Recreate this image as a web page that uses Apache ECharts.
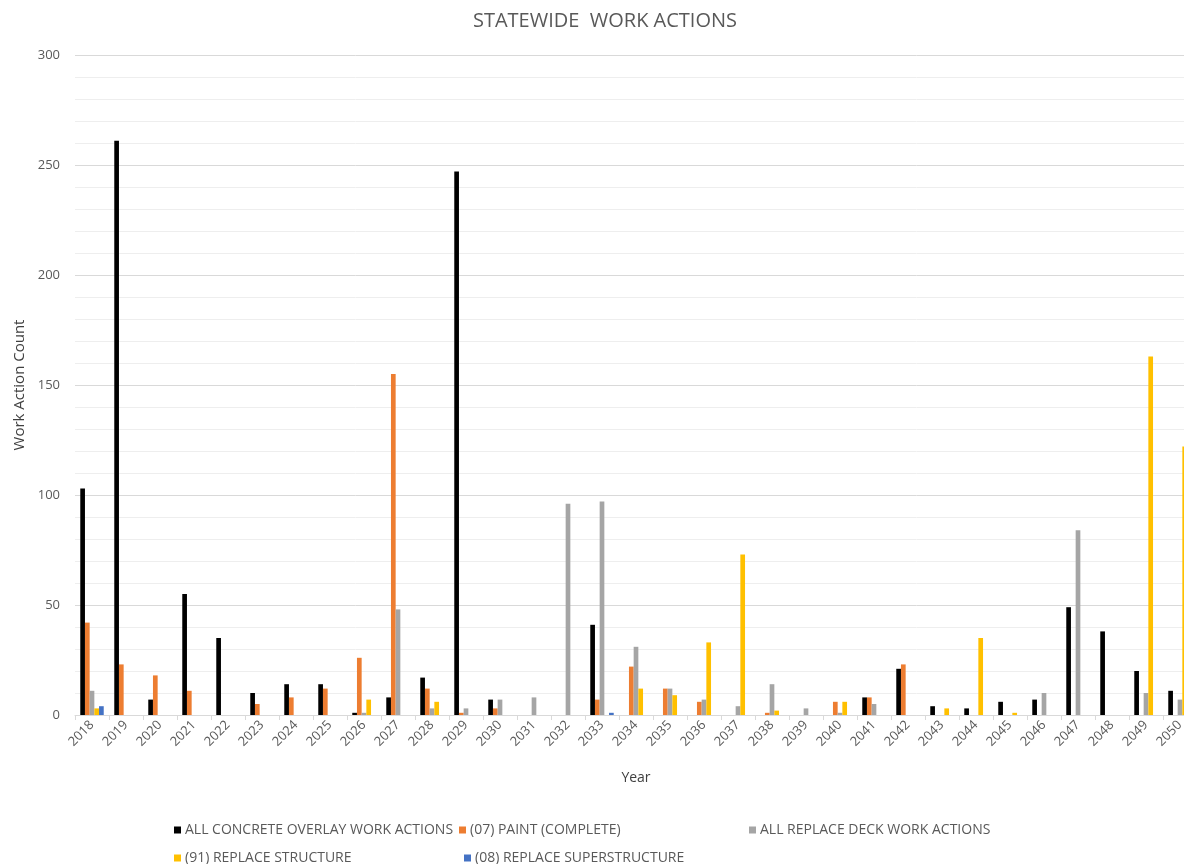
<!DOCTYPE html>
<html>
<head>
<meta charset="utf-8">
<title>Statewide Work Actions</title>
<script src="https://cdn.jsdelivr.net/npm/echarts@6/dist/echarts.min.js"></script>
<style>
  html, body { margin: 0; padding: 0; background: #ffffff; overflow: hidden; width: 1184px; height: 864px; }
  /* canvas is a bit wider than the page; the last column runs off the right edge */
  #chart { width: 1210px; height: 864px; }
</style>
</head>
<body>
<div id="chart"></div>
<script>
// Planned work action counts per year, statewide
const years = ['2018','2019','2020','2021','2022','2023','2024','2025','2026','2027','2028',
  '2029','2030','2031','2032','2033','2034','2035','2036','2037','2038','2039','2040',
  '2041','2042','2043','2044','2045','2046','2047','2048','2049','2050'];

const concreteOverlay = [103,261,7,55,35,10,14,14,1,8,17,247,7,0,0,41,0,0,0,0,0,0,0,8,21,4,3,6,7,49,38,20,11];
const paintComplete   = [42,23,18,11,0,5,8,12,26,155,12,1,3,0,0,7,22,12,6,0,1,0,6,8,23,0,0,0,0,0,0,0,0];
const replaceDeck     = [11,0,0,0,0,0,0,0,1,48,3,3,7,8,96,97,31,12,7,4,14,3,1,5,0,0,0,0,10,84,0,10,7];
const replaceStruct   = [3,0,0,0,0,0,0,0,7,0,6,0,0,0,0,0,12,9,33,73,2,0,6,0,0,3,35,1,0,0,0,163,122];
const replaceSuper    = [4,0,0,0,0,0,0,0,0,0,0,0,0,0,0,1,0,0,0,0,0,0,0,0,0,0,0,0,0,0,0,0,0];

const yTicks = { min: 0, max: 300, interval: 50 };

const seriesDefs = [
  { name: 'ALL CONCRETE OVERLAY WORK ACTIONS', data: concreteOverlay, color: '#000000' },
  { name: '(07) PAINT (COMPLETE)',             data: paintComplete,   color: '#ED7D31' },
  { name: 'ALL REPLACE DECK WORK ACTIONS',     data: replaceDeck,     color: '#A5A5A5' },
  { name: '(91) REPLACE STRUCTURE',            data: replaceStruct,   color: '#FFC000' },
  { name: '(08) REPLACE SUPERSTRUCTURE',       data: replaceSuper,    color: '#4472C4' }
];

const FONT = '"Open Sans", "Liberation Sans", sans-serif';
const TEXT_GRAY = '#595959';

// One legend block per entry so the entries sit on a fixed two-row grid
const legendSpots = [
  { left: 174, top: 823 },
  { left: 459, top: 823 },
  { left: 749, top: 823 },
  { left: 174, top: 851 },
  { left: 464, top: 851 }
];

const chart = echarts.init(document.getElementById('chart'), null, { renderer: 'canvas' });

chart.setOption({
  backgroundColor: '#ffffff',
  animation: false,
  title: {
    text: 'STATEWIDE  WORK ACTIONS',
    left: 'center',
    top: 6,
    textStyle: { fontFamily: FONT, fontSize: 20, fontWeight: 'normal', color: TEXT_GRAY }
  },
  legend: seriesDefs.map((s, i) => ({
    data: [s.name],
    left: legendSpots[i].left,
    top: legendSpots[i].top,
    orient: 'horizontal',
    icon: 'rect',
    itemWidth: 7,
    itemHeight: 7,
    itemGap: 0,
    padding: 0,
    selectedMode: false,
    textStyle: { fontFamily: FONT, fontSize: 14, color: TEXT_GRAY, padding: [0, 0, 0, -1] }
  })),
  grid: { left: 75, right: 13, top: 55, bottom: 149, containLabel: false },
  xAxis: {
    type: 'category',
    data: years,
    name: 'Year',
    nameLocation: 'middle',
    nameGap: 56,
    nameTextStyle: { fontFamily: FONT, fontSize: 14, color: '#404040' },
    axisLine: { lineStyle: { color: '#d9d9d9', width: 1 } },
    axisTick: { show: true, length: 5, lineStyle: { color: '#d9d9d9' } },
    axisLabel: { rotate: 45, margin: 8, fontFamily: FONT, fontSize: 13, color: TEXT_GRAY }
  },
  yAxis: {
    type: 'value',
    min: yTicks.min,
    max: yTicks.max,
    interval: yTicks.interval,
    name: 'Work Action Count',
    nameLocation: 'middle',
    nameRotate: 90,
    nameGap: 46,
    nameTextStyle: { fontFamily: FONT, fontSize: 15, color: '#404040' },
    axisLine: { show: false },
    axisTick: { show: false },
    axisLabel: { margin: 15, fontFamily: FONT, fontSize: 13, color: TEXT_GRAY },
    splitLine: { show: true, lineStyle: { color: '#d9d9d9', width: 1 } },
    minorTick: { show: false, splitNumber: 5 },
    minorSplitLine: { show: true, lineStyle: { color: '#eeeeee', width: 1 } }
  },
  series: seriesDefs.map(s => ({
    name: s.name,
    type: 'bar',
    data: s.data,
    itemStyle: { color: s.color },
    barGap: '0%',
    barCategoryGap: '31%'
  }))
});
</script>
</body>
</html>
